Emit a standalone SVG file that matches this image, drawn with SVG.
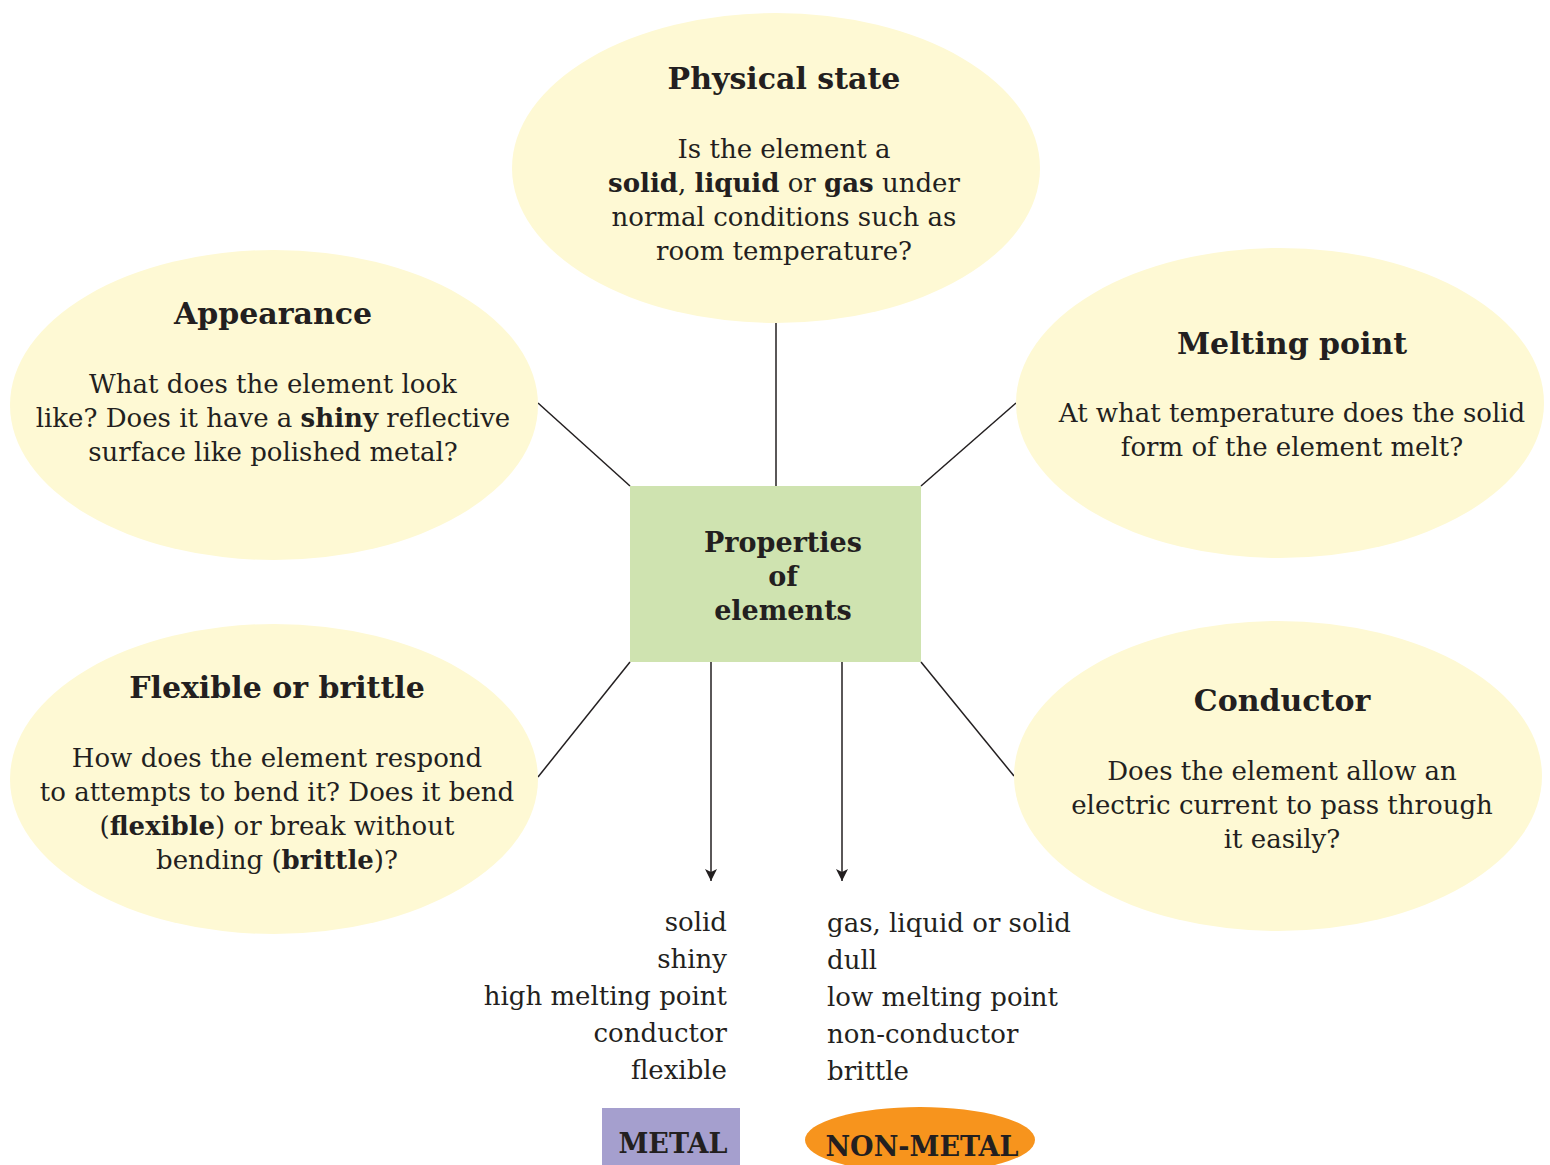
<svg xmlns="http://www.w3.org/2000/svg" width="1550" height="1165" viewBox="0 0 1550 1165">
<defs>
<style>
text{font-family:"DejaVu Serif","Liberation Serif",serif;fill:#231f20}
.t{font-size:30px;font-weight:bold;text-anchor:middle}
.c{font-size:27px;font-weight:bold;text-anchor:middle}
.b{font-size:26px;text-anchor:middle}
.l{font-size:26px}
.bold{font-weight:bold}
.ell{fill:#fef9d4}
.ln{stroke:#231f20;stroke-width:1.5;fill:none}
</style>
<marker id="ah" viewBox="0 0 12 12" refX="12" refY="6" markerWidth="12" markerHeight="12" markerUnits="userSpaceOnUse" orient="auto">
<path d="M0,0 L12,6 L0,12 L3,6 Z" fill="#231f20"/>
</marker>
</defs>
<rect width="1550" height="1165" fill="#ffffff"/>
<g id="connectors">
<line class="ln" x1="776" y1="486" x2="776" y2="323"/>
<line class="ln" x1="630" y1="486" x2="538" y2="403"/>
<line class="ln" x1="921" y1="486" x2="1016" y2="403"/>
<line class="ln" x1="630" y1="662" x2="538" y2="777"/>
<line class="ln" x1="921" y1="662" x2="1014" y2="776"/>
<line class="ln" x1="711" y1="662" x2="711" y2="881" marker-end="url(#ah)"/>
<line class="ln" x1="842" y1="662" x2="842" y2="881" marker-end="url(#ah)"/>
</g>
<g id="physical-state">
<ellipse class="ell" cx="776" cy="168" rx="264" ry="155"/>
<text class="t" x="784" y="89">Physical state</text>
<text class="b" x="784" y="158">Is the element a</text>
<text class="b" x="784" y="192"><tspan class="bold">solid</tspan>, <tspan class="bold">liquid</tspan> or <tspan class="bold">gas</tspan> under</text>
<text class="b" x="784" y="226">normal conditions such as</text>
<text class="b" x="784" y="260">room temperature?</text>
</g>
<g id="appearance">
<ellipse class="ell" cx="274" cy="405" rx="264" ry="155"/>
<text class="t" x="273" y="324">Appearance</text>
<text class="b" x="273" y="393">What does the element look</text>
<text class="b" x="273" y="427">like? Does it have a <tspan class="bold">shiny</tspan> reflective</text>
<text class="b" x="273" y="461">surface like polished metal?</text>
</g>
<g id="melting-point">
<ellipse class="ell" cx="1280" cy="403" rx="264" ry="155"/>
<text class="t" x="1292" y="354">Melting point</text>
<text class="b" x="1292" y="422">At what temperature does the solid</text>
<text class="b" x="1292" y="456">form of the element melt?</text>
</g>
<g id="flexible-brittle">
<ellipse class="ell" cx="274" cy="779" rx="264" ry="155"/>
<text class="t" x="277" y="698">Flexible or brittle</text>
<text class="b" x="277" y="767">How does the element respond</text>
<text class="b" x="277" y="801">to attempts to bend it? Does it bend</text>
<text class="b" x="277" y="835">(<tspan class="bold">flexible</tspan>) or break without</text>
<text class="b" x="277" y="869">bending (<tspan class="bold">brittle</tspan>)?</text>
</g>
<g id="conductor">
<ellipse class="ell" cx="1278" cy="776" rx="264" ry="155"/>
<text class="t" x="1282" y="711">Conductor</text>
<text class="b" x="1282" y="780">Does the element allow an</text>
<text class="b" x="1282" y="814">electric current to pass through</text>
<text class="b" x="1282" y="848">it easily?</text>
</g>
<g id="properties">
<rect x="630" y="486" width="291" height="176" fill="#cfe3b0"/>
<text class="c" x="783" y="552">Properties</text>
<text class="c" x="783" y="586">of</text>
<text class="c" x="783" y="620">elements</text>
</g>
<g id="metal-list">
<text class="l" x="727" y="931" text-anchor="end">solid</text>
<text class="l" x="727" y="968" text-anchor="end">shiny</text>
<text class="l" x="727" y="1005" text-anchor="end">high melting point</text>
<text class="l" x="727" y="1042" text-anchor="end">conductor</text>
<text class="l" x="727" y="1079" text-anchor="end">flexible</text>
</g>
<g id="nonmetal-list">
<text class="l" x="827" y="932">gas, liquid or solid</text>
<text class="l" x="827" y="969">dull</text>
<text class="l" x="827" y="1006">low melting point</text>
<text class="l" x="827" y="1043">non-conductor</text>
<text class="l" x="827" y="1080">brittle</text>
</g>
<g id="metal">
<rect x="602" y="1108" width="138" height="57" fill="#a59fce"/>
<text class="c" x="673" y="1153">METAL</text>
</g>
<g id="non-metal">
<ellipse cx="920" cy="1140" rx="115" ry="33" fill="#f7941d"/>
<text class="c" x="922" y="1156">NON-METAL</text>
</g>
</svg>
